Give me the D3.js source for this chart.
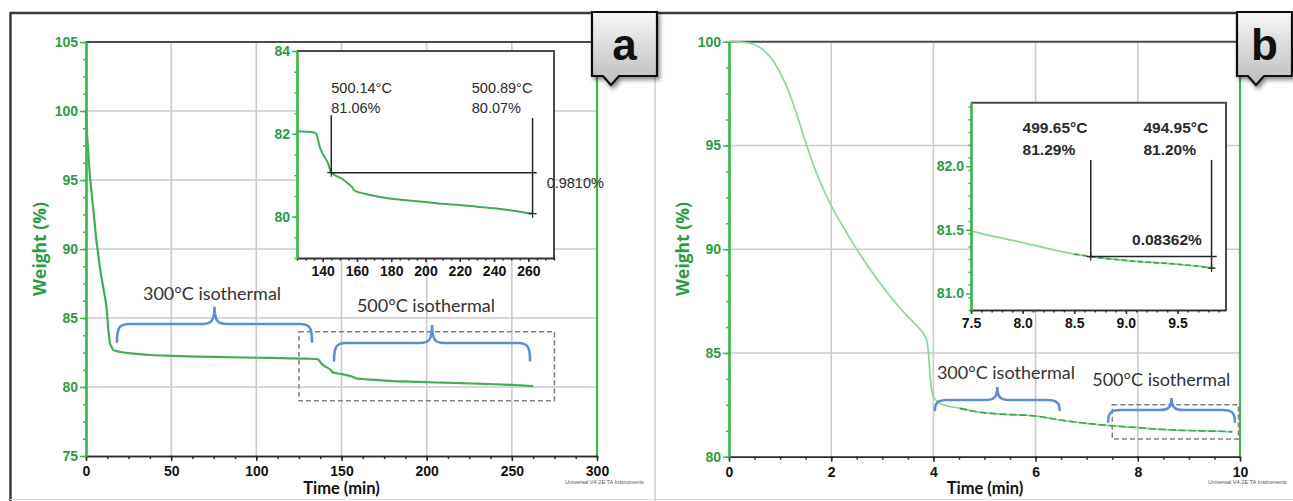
<!DOCTYPE html>
<html>
<head>
<meta charset="utf-8">
<script src="https://cdn.jsdelivr.net/npm/d3@7/dist/d3.min.js"></script>
<style>
  html, body { margin:0; padding:0; background:#fff; overflow:hidden; }
  svg { display:block; }
</style>
</head>
<body>
<svg id="chart" width="1293" height="501"></svg>
<script>
// ---------------- data ----------------
const timeA = [0,0.5,1,2,3,4,5,6,7,8,9,10,11,12,12.5,13,13.5,14,15,16,18,22,30,38,50,67,100,120,125,130,135,136.5,138,140,143,145,148,151,155,157,158.5,162,167,180,190,200,210,220,230,240,250,262.5];
const weightA = [100,98.6,97.6,95.8,94.4,93.2,92.0,90.7,89.8,88.8,88.0,87.3,86.6,85.8,85.1,84.3,83.7,83.2,82.9,82.7,82.6,82.5,82.4,82.32,82.26,82.2,82.12,82.08,82.06,82.05,82.03,81.98,81.72,81.52,81.3,81.06,80.98,80.92,80.79,80.72,80.63,80.58,80.53,80.43,80.39,80.35,80.31,80.28,80.24,80.2,80.15,80.07];
const timeB = [0,0.3,0.5,0.7,0.9,1.1,1.3,1.5,1.7,1.9,2.1,2.3,2.5,2.7,2.9,3.1,3.3,3.5,3.7,3.8,3.87,3.9,3.93,3.96,4.0,4.06,4.12,4.52,4.91,5.17,5.5,5.8,6.0,6.47,6.99,7.5,8.0,8.5,8.66,9.14,9.5,9.85];
const weightB = [100,99.97,99.85,99.55,98.95,98.0,96.7,95.15,93.75,92.6,91.65,90.8,90.0,89.25,88.55,87.9,87.3,86.75,86.25,85.95,85.6,85.1,84.1,83.3,82.9,82.7,82.58,82.33,82.14,82.08,82.03,82.0,81.96,81.77,81.61,81.49,81.4,81.31,81.29,81.25,81.23,81.2];

const xTicksA = [0, 50, 100, 150, 200, 250, 300];
const yTicksA = [75, 80, 85, 90, 95, 100, 105];
const xTicksInsetA = [140, 160, 180, 200, 220, 240, 260];
const yTicksInsetA = [80, 82, 84];
const xTicksB = [0, 2, 4, 6, 8, 10];
const yTicksB = [80, 85, 90, 95, 100];
const xTicksInsetB = [7.5, 8.0, 8.5, 9.0, 9.5];
const yTicksInsetB = [81.0, 81.5, 82.0];

const markerTimesA = [145, 262.5];
const markerWeightsA = [81.06, 80.07];
const markerTempsA = ["500.14°C", "500.89°C"];
const stepLabelA = "0.9810%";
const markerTimesB = [8.66, 9.83];
const markerWeightsB = [81.29, 81.20];
const markerTempsB = ["499.65°C", "494.95°C"];
const stepLabelB = "0.08362%";

const isoLabels = ["300°C isothermal", "500°C isothermal"];
const panelLetters = ["a", "b"];
const xTitle = "Time (min)", yTitle = "Weight (%)", stamp = "Universal V4.2E TA Instruments";

// ---------------- styles ----------------
const GREEN = "#3db650", GREEN_TXT = "#2c9c42", GRID = "#cbcbcb", BRACE = "#5b8fd3";
const TICKFONT = "'Liberation Sans Narrow','Arial Narrow','Liberation Sans',Arial,sans-serif";

const svg = d3.select("#chart");
svg.append("rect").attr("width", 1293).attr("height", 501).attr("fill", "#fff");
const defs = svg.append("defs");
const grad = defs.append("linearGradient").attr("id", "boxGrad").attr("x1", 0).attr("y1", 0).attr("x2", 0).attr("y2", 1);
grad.append("stop").attr("offset", "0%").attr("stop-color", "#f7f7f7");
grad.append("stop").attr("offset", "100%").attr("stop-color", "#bdbdbd");
const filt = defs.append("filter").attr("id", "shadow").attr("x", "-30%").attr("y", "-30%").attr("width", "160%").attr("height", "160%");
filt.append("feDropShadow").attr("dx", 2).attr("dy", 3).attr("stdDeviation", 2).attr("flood-color", "#000").attr("flood-opacity", 0.45);

// outer frames
svg.append("line").attr("x1", 10).attr("x2", 1293).attr("y1", 13).attr("y2", 13).attr("stroke", "#3a3a3a").attr("stroke-width", 2.5);
svg.append("line").attr("x1", 10.5).attr("x2", 10.5).attr("y1", 12).attr("y2", 501).attr("stroke", "#3a3a3a").attr("stroke-width", 2.5);
svg.append("line").attr("x1", 655).attr("x2", 655).attr("y1", 13).attr("y2", 501).attr("stroke", "#cfcfcf").attr("stroke-width", 1.5);
svg.append("line").attr("x1", 10).attr("x2", 1293).attr("y1", 499.5).attr("y2", 499.5).attr("stroke", "#dcdcdc").attr("stroke-width", 1);

function range(a, b, s) { const out = []; for (let v = a; v <= b + 1e-9; v += s) out.push(+v.toFixed(6)); return out; }

function styleAxis(sel, color, txtColor, width, font) {
  sel.selectAll("path.domain").attr("stroke", color).attr("stroke-width", width);
  sel.selectAll(".tick line").attr("stroke", color).attr("stroke-width", 1.5);
  sel.selectAll(".tick text").attr("fill", txtColor).attr("font-family", font.family)
     .attr("font-size", font.size).attr("font-weight", "bold");
}

function drawAxes(g, x, y, o) {
  const [x0] = x.range(), [y0] = y.range();
  const ay = g.append("g").attr("transform", `translate(${x0},0)`);
  ay.append("g").call(d3.axisLeft(y).tickValues(o.yMinor).tickSize(o.yMinorSize).tickSizeOuter(0).tickFormat(""));
  ay.append("g").call(d3.axisLeft(y).tickValues(o.yTicks).tickSize(o.yTickSize).tickPadding(o.yPad).tickSizeOuter(0).tickFormat(o.yFmt));
  styleAxis(ay, GREEN, GREEN_TXT, 2.2, {family: TICKFONT, size: o.fontSize});
  const ax = g.append("g").attr("transform", `translate(0,${y0})`);
  ax.append("g").call(d3.axisBottom(x).tickValues(o.xMinor).tickSize(o.xMinorSize).tickSizeOuter(0).tickFormat(""));
  ax.append("g").call(d3.axisBottom(x).tickValues(o.xTicks).tickSize(o.xTickSize).tickPadding(o.xPad).tickSizeOuter(0).tickFormat(o.xFmt));
  styleAxis(ax, "#2b2b2b", "#111", 1.6, {family: TICKFONT, size: o.fontSize});
  ay.raise();
}

function braceShape(x1, x2, yEnd, yTop, yTip) {
  const xm = (x1 + x2) / 2, r = 12;
  return `M${x1},${yEnd} C${x1},${yTop + 3} ${x1 + 3},${yTop} ${x1 + r},${yTop} ` +
         `L${xm - r},${yTop} C${xm - 4},${yTop} ${xm},${yTop - 2} ${xm},${yTip} ` +
         `C${xm},${yTop - 2} ${xm + 4},${yTop} ${xm + r},${yTop} ` +
         `L${x2 - r},${yTop} C${x2 - 3},${yTop} ${x2},${yTop + 3} ${x2},${yEnd}`;
}

function drawPanel(P) {
  const g = svg.append("g");
  const x = P.x, y = P.y;
  const [x0, x1] = x.range(), [y0, y1] = y.range();
  const pts = P.time.map((t, i) => [t, P.weight[i]]);

  const xd = x.domain(), yd = y.domain();
  g.append("g").selectAll("line").data(P.xTicks.filter(v => v > xd[0] && v < xd[1])).join("line")
    .attr("x1", d => x(d)).attr("x2", d => x(d)).attr("y1", y1).attr("y2", y0)
    .attr("stroke", GRID).attr("stroke-width", 1.6);
  g.append("g").selectAll("line").data(P.yTicks.filter(v => v > yd[0] && v < yd[1])).join("line")
    .attr("x1", x0).attr("x2", x1).attr("y1", d => y(d)).attr("y2", d => y(d))
    .attr("stroke", GRID).attr("stroke-width", 1.6);

  g.append("line").attr("x1", x0).attr("x2", x1).attr("y1", y1).attr("y2", y1).attr("stroke", "#4a4a4a").attr("stroke-width", 2);
  g.append("line").attr("x1", x1).attr("x2", x1).attr("y1", y1).attr("y2", y0).attr("stroke", GREEN).attr("stroke-width", 2.2);

  const zb = P.zoomBox;
  g.append("rect").attr("x", x(zb[0])).attr("y", y(zb[3])).attr("width", x(zb[1]) - x(zb[0])).attr("height", y(zb[2]) - y(zb[3]))
    .attr("fill", "none").attr("stroke", "#808080").attr("stroke-width", 1.5).attr("stroke-dasharray", "5,3");

  const line = d3.line().x(d => x(d[0])).y(d => y(d[1])).curve(d3.curveMonotoneX);
  g.append("path").datum(pts).attr("d", line).attr("fill", "none").attr("stroke", P.curveColor).attr("stroke-width", P.curveWidth);
  if (P.overlayFrom != null) {
    g.append("path").datum(pts.filter(d => d[0] >= P.overlayFrom)).attr("d", line).attr("fill", "none")
      .attr("stroke", "#3ea34d").attr("stroke-width", 1.6).attr("stroke-dasharray", "7,3");
  }

  drawAxes(g, x, y, {
    yTicks: P.yTicks, yMinor: range(yd[0], yd[1], P.yMinorStep), yTickSize: 6, yMinorSize: 3, yPad: 2, yFmt: d3.format("d"),
    xTicks: P.xTicks, xMinor: range(xd[0], xd[1], P.xMinorStep), xTickSize: 5, xMinorSize: 3, xPad: 5, xFmt: d3.format("d"),
    fontSize: 14
  });

  g.append("text").attr("transform", `translate(${P.yTitleX},249) rotate(-90)`).attr("text-anchor", "middle")
    .attr("font-family", "'Open Sans',sans-serif").attr("font-weight", "bold").attr("font-size", 17.5)
    .attr("fill", GREEN_TXT).text(yTitle);
  g.append("text").attr("x", P.xTitleX).attr("y", 494).attr("text-anchor", "middle")
    .attr("font-family", "Lato,sans-serif").attr("font-weight", "bold").attr("font-size", 16.5)
    .attr("fill", "#111").text(xTitle);
  g.append("text").attr("x", P.stampX).attr("y", 484).attr("font-family", "'Liberation Sans',Arial,sans-serif")
    .attr("font-size", 5.6).attr("fill", "#555").text(stamp);

  P.braces.forEach((b, i) => {
    g.append("path").attr("d", braceShape(x(b.t0), x(b.t1), y(b.wEnd), y(b.wTop), y(b.wTip)))
      .attr("fill", "none").attr("stroke", BRACE).attr("stroke-width", 2.6).attr("stroke-linecap", "round");
    g.append("text").attr("x", x(b.textT)).attr("y", y(b.wText)).attr("text-anchor", "middle")
      .attr("font-family", "Lato,sans-serif").attr("font-size", 18).attr("fill", "#333").text(isoLabels[i]);
  });

  drawInset(P.inset, pts);
}

function drawInset(I, pts) {
  const g = svg.append("g");
  const x = I.x, y = I.y;
  const [x0, x1] = x.range(), [y0, y1] = y.range();
  const xd = x.domain(), yd = y.domain();
  g.append("rect").attr("x", x0).attr("y", y1).attr("width", x1 - x0).attr("height", y0 - y1).attr("fill", "#fff");
  defs.append("clipPath").attr("id", I.id).append("rect").attr("x", x0).attr("y", y1).attr("width", x1 - x0).attr("height", y0 - y1);
  const line = d3.line().x(d => x(d[0])).y(d => y(d[1])).curve(d3.curveMonotoneX);
  const sub = pts.filter(d => d[0] >= xd[0] - 10 && d[0] <= xd[1] + 10);
  g.append("path").datum(sub).attr("d", line).attr("clip-path", `url(#${I.id})`).attr("fill", "none")
    .attr("stroke", I.curveColor).attr("stroke-width", I.curveWidth);
  if (I.overlayFrom != null) {
    g.append("path").datum(sub.filter(d => d[0] >= I.overlayFrom)).attr("d", line).attr("fill", "none")
      .attr("stroke", "#3c9e4a").attr("stroke-width", 1.6).attr("stroke-dasharray", "5,3");
  }
  g.append("path").attr("d", `M${x0},${y1} H${x1} V${y0}`).attr("fill", "none").attr("stroke", "#4a4a4a").attr("stroke-width", 2);

  drawAxes(g, x, y, {
    yTicks: I.yTicks, yMinor: range(yd[0], yd[1], I.yMinorStep).filter(v => v >= yd[0]), yTickSize: 5, yMinorSize: 2.5, yPad: 2, yFmt: I.yFmt,
    xTicks: I.xTicks, xMinor: range(xd[0], xd[1], I.xMinorStep), xTickSize: 4, xMinorSize: 2.5, xPad: 4, xFmt: I.xFmt,
    fontSize: 14
  });

  const A = I.ann;
  const ink = "#262626";
  const mt = A.times, mw = A.weights;
  const ag = g.append("g").attr("stroke", ink).attr("stroke-width", 1.5).attr("fill", "none");
  ag.append("line").attr("x1", x(mt[0])).attr("x2", x(mt[0])).attr("y1", y(A.topW[0])).attr("y2", y(mw[0]));
  ag.append("line").attr("x1", x(mt[1])).attr("x2", x(mt[1])).attr("y1", y(A.topW[1])).attr("y2", y(mw[1]));
  ag.append("line").attr("x1", x(mt[0])).attr("x2", x(A.hEnd)).attr("y1", y(mw[0])).attr("y2", y(mw[0]));
  mt.forEach((t, i) => {
    const cx = x(t), cy = y(mw[i]);
    ag.append("path").attr("d", `M${cx - 4},${cy} H${cx + 4} M${cx},${cy - 4} V${cy + 4}`).attr("stroke-width", 1.2);
  });
  const tf = {family: A.font, size: A.size, weight: A.weight};
  A.temps.forEach((s, i) => {
    g.append("text").attr("x", x(A.textT[i])).attr("y", y(A.tempW)).text(s)
      .attr("font-family", tf.family).attr("font-size", tf.size).attr("font-weight", tf.weight).attr("fill", "#2a2a2a");
    g.append("text").attr("x", x(A.textT[i])).attr("y", y(A.pctW)).text(A.pcts[i])
      .attr("font-family", tf.family).attr("font-size", tf.size).attr("font-weight", tf.weight).attr("fill", "#2a2a2a");
  });
  g.append("text").attr("x", x(A.stepT)).attr("y", y(A.stepW)).text(A.step)
    .attr("font-family", tf.family).attr("font-size", tf.size).attr("font-weight", tf.weight).attr("fill", "#2a2a2a");
}

const pctFmt = d3.format(".2f");

drawPanel({
  time: timeA, weight: weightA,
  x: d3.scaleLinear().domain([0, 300]).range([86, 597]),
  y: d3.scaleLinear().domain([75, 105]).range([456, 42]),
  xTicks: xTicksA, yTicks: yTicksA, xMinorStep: 12.5, yMinorStep: 1.25,
  curveColor: "#3fae55", curveWidth: 2.2, overlayFrom: null,
  yTitleX: 46, xTitleX: 341.5, stampX: 565,
  zoomBox: [125, 275, 79, 84],
  braces: [
    {t0: 18.2, t1: 132.7, wEnd: 83.28, wTop: 84.57, wTip: 85.82, textT: 74, wText: 86.3},
    {t0: 145.6, t1: 260.7, wEnd: 81.92, wTop: 83.19, wTip: 84.49, textT: 199.6, wText: 85.43}
  ],
  inset: {
    id: "clipA",
    x: d3.scaleLinear().domain([125, 275]).range([297, 554]),
    y: d3.scaleLinear().domain([79, 84]).range([258, 51]),
    xTicks: xTicksInsetA, yTicks: yTicksInsetA, xMinorStep: 5, yMinorStep: 0.5,
    xFmt: d3.format("d"), yFmt: d3.format("d"),
    curveColor: "#3fae55", curveWidth: 2, overlayFrom: null,
    ann: {
      times: markerTimesA, weights: markerWeightsA, temps: markerTempsA,
      pcts: markerWeightsA.map(v => pctFmt(v) + "%"), step: stepLabelA,
      topW: [82.45, 82.38], hEnd: 264.9, textT: [145, 227], tempW: 82.98, pctW: 82.51,
      stepT: 270.7, stepW: 80.68,
      font: "'Liberation Sans',Arial,sans-serif", size: 14.5, weight: "normal"
    }
  }
});

drawPanel({
  time: timeB, weight: weightB,
  x: d3.scaleLinear().domain([0, 10]).range([729, 1240]),
  y: d3.scaleLinear().domain([80, 100]).range([456.7, 41.7]),
  xTicks: xTicksB, yTicks: yTicksB, xMinorStep: 0.5, yMinorStep: 1.25,
  curveColor: "#8ed59a", curveWidth: 1.7, overlayFrom: 4.3,
  yTitleX: 689, xTitleX: 985, stampX: 1208,
  zoomBox: [7.5, 9.97, 80.85, 82.5],
  braces: [
    {t0: 4.03, t1: 6.47, wEnd: 82.25, wTop: 82.73, wTip: 83.36, textT: 5.42, wText: 83.74},
    {t0: 7.42, t1: 9.9, wEnd: 81.69, wTop: 82.25, wTip: 82.83, textT: 8.46, wText: 83.41}
  ],
  inset: {
    id: "clipB",
    x: d3.scaleLinear().domain([7.5, 9.97]).range([971, 1226]),
    y: d3.scaleLinear().domain([80.87, 82.5]).range([310, 102.7]),
    xTicks: xTicksInsetB, yTicks: yTicksInsetB, xMinorStep: 0.1, yMinorStep: 0.1,
    xFmt: d3.format(".1f"), yFmt: d3.format(".1f"),
    curveColor: "#8ed59a", curveWidth: 1.7, overlayFrom: 8.5,
    ann: {
      times: markerTimesB, weights: markerWeightsB, temps: markerTempsB,
      pcts: markerWeightsB.map(v => pctFmt(v) + "%"), step: stepLabelB,
      topW: [82.05, 82.05], hEnd: 9.88, textT: [8.0, 9.17], tempW: 82.26, pctW: 82.09,
      stepT: 9.06, stepW: 81.38,
      font: "'Liberation Sans',Arial,sans-serif", size: 15.5, weight: "bold"
    }
  }
});

const boxes = [
  {x0: 592, x1: 657, tip: 611},
  {x0: 1237, x1: 1292, tip: 1256}
];
boxes.forEach((b, i) => {
  const top = 12, bot = 76, tipY = 85;
  const d = `M${b.x0},${top} H${b.x1} V${bot} H${b.tip + 8} L${b.tip},${tipY} L${b.tip - 8},${bot} H${b.x0} Z`;
  svg.append("path").attr("d", d).attr("fill", "url(#boxGrad)").attr("stroke", "#111").attr("stroke-width", 2.2)
    .attr("filter", "url(#shadow)");
  svg.append("text").attr("x", (b.x0 + b.x1) / 2).attr("y", 60).attr("text-anchor", "middle")
    .attr("font-family", "'Liberation Sans',Arial,sans-serif").attr("font-weight", "bold").attr("font-size", 44)
    .attr("fill", "#111").text(panelLetters[i]);
});
</script>
</body>
</html>
